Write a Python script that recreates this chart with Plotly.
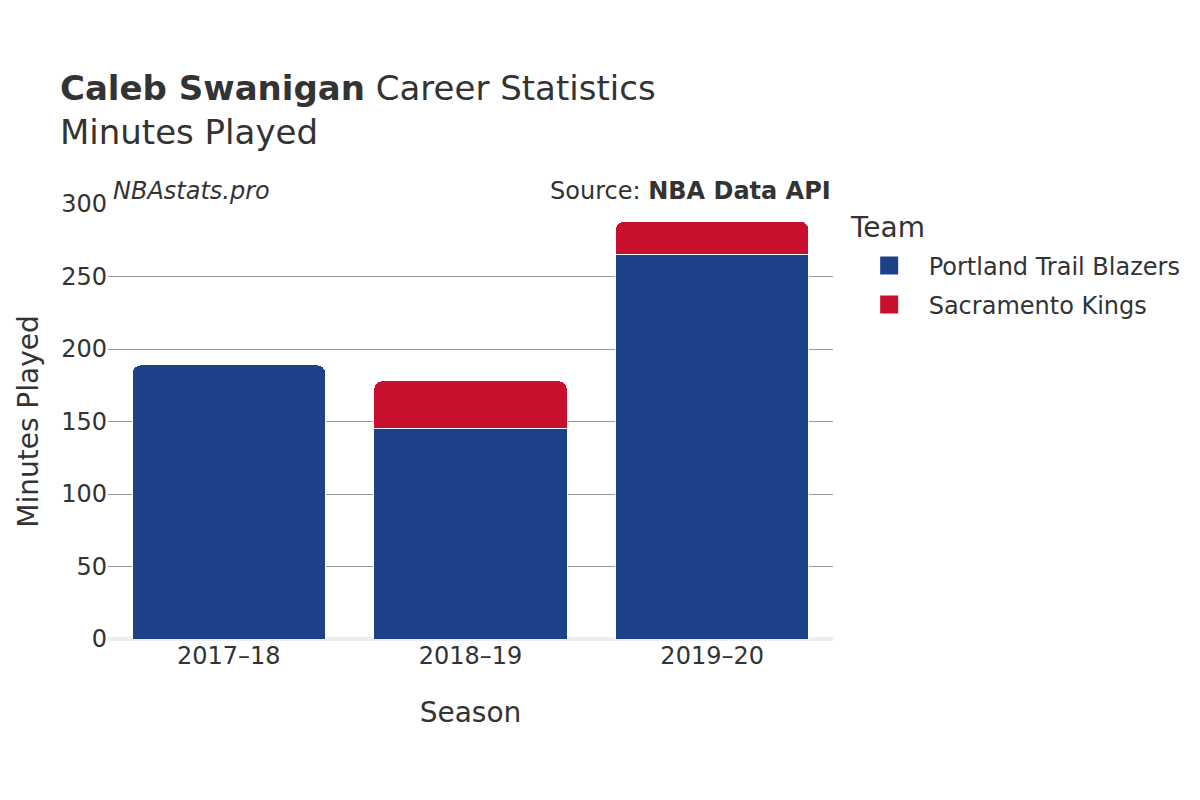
import plotly.graph_objects as go

seasons = ["2017–18", "2018–19", "2019–20"]
portland = [189, 145, 265]
sacramento = [None, 33, 23]
teams = ["Portland Trail Blazers", "Sacramento Kings"]
colors = ["#1d428a", "#c8102e"]

fig = go.Figure()
for vals, name, col in [(portland, teams[0], colors[0]), (sacramento, teams[1], colors[1])]:
    fig.add_trace(go.Bar(x=seasons, y=vals, name=name, showlegend=False, legendgroup=name,
                         marker=dict(color=col, line=dict(color="white", width=1))))
for name, col, lg in zip(teams, colors, ["legend", "legend2"]):
    fig.add_trace(go.Scatter(x=[None], y=[None], mode="markers", name=name, legendgroup=name,
                             legend=lg,
                             marker=dict(symbol="square", size=20, color=col,
                                         line=dict(color=col, width=2))))

leg_common = dict(font=dict(size=24), x=1.023, xanchor="left", yanchor="middle",
                  itemsizing="trace", itemwidth=69)

fig.update_layout(
    barmode="stack",
    barcornerradius=8,
    bargap=0.2,
    width=1200, height=800,
    paper_bgcolor="white", plot_bgcolor="white",
    font=dict(family="DejaVu Sans", color="#333333", size=24),
    margin=dict(l=100, r=375, t=196, b=169),
    title=dict(text="<b>Caleb Swanigan</b> Career Statistics<br>Minutes Played",
               x=0.0433, xanchor="left", y=0.885, yanchor="top",
               font=dict(size=34, color="#333333")),
    xaxis=dict(title=dict(text="Season", font=dict(size=28), standoff=33),
               tickfont=dict(size=24), showgrid=False, ticks=""),
    yaxis=dict(range=[0, 300], dtick=50, tickfont=dict(size=24), automargin=False,
               showgrid=True, gridcolor="#999999", gridwidth=1,
               zeroline=True, zerolinecolor="#eeeeee", zerolinewidth=4),
    legend=dict(y=0.8575, **leg_common),
    legend2=dict(y=0.7678, **leg_common),
    annotations=[
        dict(text="Minutes Played", xref="paper", yref="paper", x=-0.11, y=0.5,
             xanchor="center", yanchor="middle", textangle=-90, showarrow=False,
             font=dict(size=28, color="#333333")),
        dict(text="Team", xref="paper", yref="paper", x=1.0207, y=0.947,
             xanchor="left", yanchor="middle", showarrow=False,
             font=dict(size=28, color="#333333")),
        dict(text="<i>NBAstats.pro</i>", xref="paper", yref="paper", x=0, y=1.0,
             xanchor="left", yanchor="bottom", showarrow=False, yshift=-3, xshift=3,
             font=dict(size=24, color="#333333")),
        dict(text="Source: <b>NBA Data API</b>", xref="paper", yref="paper", x=1, y=1.0,
             xanchor="right", yanchor="bottom", showarrow=False, yshift=-3,
             font=dict(size=24, color="#333333")),
    ],
)
fig.write_html("out.html")
